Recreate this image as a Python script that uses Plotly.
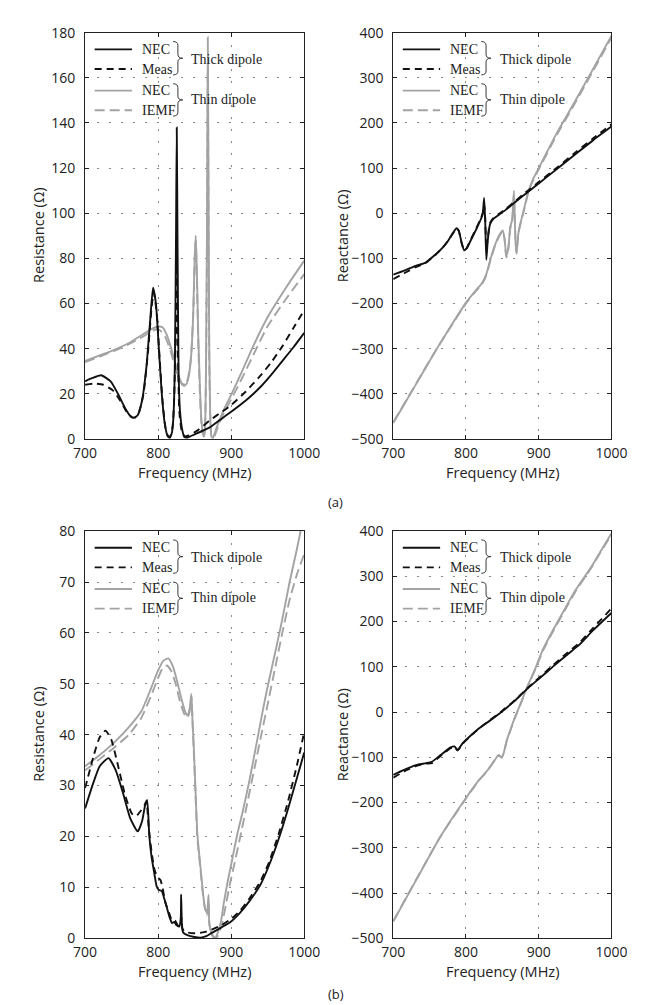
import plotly.graph_objects as go

W, H = 651, 1005

# ---------------- (a) resistance ----------------
a_res_thick_nec_f = [700, 710, 722, 735, 745, 755, 762, 767, 772, 778, 784, 789, 793, 797, 801, 805, 809, 813, 816,
                     819, 821, 823, 824.5, 825.5, 826.5, 828, 830, 833, 836, 840, 850, 870, 885, 900, 920, 940, 955,
                     970, 985, 1000]
a_res_thick_nec = [25.5, 27.0, 28.2, 25.5, 20, 13.5, 10.2, 9.4, 10.5, 17, 32, 52, 67, 60, 40, 20, 7, 1.2, 0.5,
                   3, 10, 35, 90, 138, 90, 30, 12, 4, 0.8, 0.6, 2, 5, 8.5, 12, 17, 23, 28.5, 34.5, 40.5, 47]

a_res_thick_meas_f = [700, 712, 725, 738, 748, 757, 764, 769, 774, 780, 786, 791, 794, 798, 802, 806, 810, 814, 817,
                      820, 822, 824, 825.5, 827, 829, 832, 836, 842, 855, 870, 885, 900, 920, 940, 955, 970, 985, 1000]
a_res_thick_meas = [24, 24.5, 24, 21.5, 17, 12, 9.5, 9.5, 12, 20, 38, 58, 65, 56, 36, 17, 5, 1, 1.5,
                    6, 18, 45, 80, 40, 12, 4, 1.2, 1.5, 4, 8, 11.5, 15, 21, 28, 34, 41, 49, 57]

a_res_thin_nec_f = [700, 720, 740, 760, 775, 790, 800, 806, 812, 818, 823, 828, 833, 838, 842, 845, 848, 850, 851.5,
                    853, 855, 857, 859, 861, 862.5, 864, 865.5, 867, 868, 869, 870, 871.5, 873, 875, 880, 890, 900,
                    915, 930, 950, 975, 1000]
a_res_thin_nec = [34.5, 37, 39.5, 42.5, 45.5, 48.5, 49.8, 49.5, 46, 40, 34, 28, 24.5, 24, 28, 36, 55, 80, 90,
                  75, 45, 25, 10, 3, 1, 3, 30, 100, 178, 110, 40, 8, 1, 0.5, 5, 13, 19.5,
                  30, 41, 54, 67, 79]

a_res_thin_iemf_f = [700, 720, 740, 760, 775, 790, 797, 803, 810, 817, 823, 828, 833, 837, 841, 845, 848, 850, 851.5,
                     853, 855, 857, 859, 861, 862.5, 864, 865.5, 867, 868, 869, 870, 871.5, 873, 876, 881, 890, 900,
                     915, 930, 950, 975, 1000]
a_res_thin_iemf = [34, 36.5, 39, 42, 44.5, 47.5, 48.5, 48, 45, 39, 32, 27, 24, 23.5, 27, 36, 55, 78, 88,
                   72, 42, 22, 8, 2.5, 1.5, 4, 28, 90, 165, 100, 35, 8, 1.5, 0.5, 4.5, 11.5, 17.5,
                   27, 37, 50, 62, 73]

# ---------------- (a) reactance ----------------
a_rea_thick_nec_f = [700, 715, 730, 744, 757, 767, 775, 782, 787, 790, 794, 797.5, 801, 806, 814, 820, 823, 825,
                     826.5, 828, 830, 833, 838, 845, 855, 867, 878, 890, 900, 925, 950, 975, 1000]
a_rea_thick_nec = [-136, -127, -117, -110, -93, -78, -62, -44, -33, -38, -65, -82, -78, -62, -36, -15, -2, 34,
                   -20, -103, -60, -25, -12, -4, 8, 24, 38, 53, 66, 98, 130, 162, 192]

a_rea_thick_meas_f = a_rea_thick_nec_f
a_rea_thick_meas = [-146, -133, -120, -111, -94, -78, -62, -45, -34, -39, -66, -82, -77, -60, -34, -13, 0, 20,
                    -10, -80, -55, -22, -10, -2, 10, 26, 41, 56, 69, 101, 134, 166, 197]

a_rea_thin_nec_f = [700, 720, 740, 760, 780, 800, 815, 822, 828, 834, 840, 846, 850.5, 853, 855.5, 858, 861, 863.5,
                    866, 868, 869.5, 872, 876, 880, 886, 893, 900, 925, 950, 975, 1000]
a_rea_thin_nec = [-465, -410, -355, -300, -248, -198, -168, -155, -135, -100, -70, -48, -38, -55, -95, -80, -30, -15,
                  50, -60, -90, -45, -15, 10, 50, 78, 100, 178, 248, 320, 393]

a_rea_thin_iemf_f = a_rea_thin_nec_f
a_rea_thin_iemf = [-463, -409, -354, -300, -249, -200, -170, -157, -137, -102, -72, -50, -40, -58, -98, -82, -33, -18,
                   40, -55, -88, -45, -16, 8, 48, 76, 97, 174, 244, 316, 389]

# ---------------- (b) resistance ----------------
b_res_thick_nec_f = [700, 710, 720, 732, 742, 752, 762, 772, 778, 782, 785, 788, 791, 794.5, 798, 801, 805, 808,
                     812, 816, 819, 822, 825, 829, 831, 831.5, 832.5, 834, 840, 848, 858, 866, 873, 885, 899, 912,
                     925, 940, 952, 965, 978, 990, 1000]
b_res_thick_nec = [25.5, 30, 33.8, 35.4, 33, 28.5, 23.5, 21, 23, 26, 27.2, 20, 16, 13, 10.2, 9.5, 9.3, 8,
                   6, 4, 3, 3.2, 2.6, 2.3, 4, 8.6, 3, 1.2, 0.6, 0.3, 0.1, 0.4, 1, 2, 3.2, 5,
                   7.3, 10.5, 14.4, 19.5, 25.5, 31.5, 36.5]

b_res_thick_meas_f = [700, 712, 720, 728, 736, 745, 755, 764, 770, 776, 781, 784, 787, 791, 795, 799, 803, 806,
                      810, 815, 819, 823, 827, 830, 832, 833, 836, 845, 855, 866, 875, 887, 900, 912, 925, 940,
                      952, 965, 978, 990, 1000]
b_res_thick_meas = [29.5, 36, 39.5, 40.8, 39, 34, 28, 24.5, 24, 25, 26, 27, 22, 17, 13.5, 12, 11.5, 10,
                    7, 5, 3.5, 3.5, 2.5, 2.2, 4, 2, 1.3, 1, 1, 1.3, 1.8, 2.6, 3.8, 5.4, 7.8, 11.2,
                    15, 20.5, 27, 34, 40.5]

b_res_thin_nec_f = [700, 720, 740, 760, 777, 790, 799, 807, 814, 820, 826, 832, 837, 840, 843, 845.5, 847, 849,
                    851.5, 853.5, 855.5, 858, 861, 864, 867, 869, 870, 872, 875, 878, 881, 886, 890, 895, 900,
                    908, 916, 925, 935, 945, 951.5, 960, 969, 980, 990, 1000]
b_res_thin_nec = [33.8, 36, 38.5, 41.5, 44.6, 49, 52.3, 54.5, 55, 53.5, 50.5, 47, 44.5, 43.8, 45, 48, 43, 37,
                  28, 21, 17.5, 14, 9.5, 6, 5, 8.5, 3, 1.5, 0.5, 0, 0.8, 3.3, 7, 11, 14.5,
                  20.2, 25, 31, 38.5, 46, 50.5, 56, 62, 70, 76.5, 83.5]

b_res_thin_iemf_f = [700, 720, 740, 760, 777, 790, 799, 806, 812, 818, 824, 830, 836, 840, 843, 845.5, 847, 849,
                     851.5, 853.5, 855.5, 858, 861, 864, 867, 869, 870, 872, 875, 878, 882, 887, 892, 898, 905,
                     914, 922, 932, 942, 950, 960, 970, 980, 990, 1000]
b_res_thin_iemf = [33, 35.2, 37.5, 40, 43.3, 47.5, 50.8, 53, 53.6, 52.5, 50, 46.5, 44, 43.3, 44.5, 47.5, 43, 36,
                   27, 20, 17, 13.5, 9, 6, 4.5, 7, 3, 1.2, 0.3, 0, 0.5, 2.5, 6, 10.5, 15,
                   21, 26.5, 33.5, 40.5, 46, 53, 60, 66.5, 71.5, 75.5]

# ---------------- (b) reactance ----------------
b_rea_thick_nec_f = [700, 715, 730, 745, 753, 765, 779, 784, 788.6, 795, 801, 815, 832, 850, 865, 875, 886, 900,
                     920, 940, 956, 975, 1000]
b_rea_thick_nec = [-139, -128, -118, -113, -110, -95, -78, -76, -84, -70, -60, -40, -20, 2, 22, 37, 54, 73,
                   101, 128, 149, 181, 219]

b_rea_thick_meas_f = b_rea_thick_nec_f
b_rea_thick_meas = [-145, -131, -120, -114, -113, -97, -80, -77, -85, -71, -61, -40, -19, 3, 23, 38, 55, 75,
                    104, 132, 153, 186, 229]

b_rea_thin_nec_f = [700, 733, 765, 800, 818, 830, 840, 845, 849, 852, 856, 861, 867, 875, 884, 895, 906, 920,
                    932.5, 950, 972, 985, 1000]
b_rea_thin_nec = [-463, -367, -275, -190, -150, -128, -105, -95, -100, -90, -63, -40, -13, 18, 55, 95, 139, 182,
                  218, 268, 320, 355, 395]

b_rea_thin_iemf_f = b_rea_thin_nec_f
b_rea_thin_iemf = [-462, -366, -275, -191, -151, -129, -106, -96, -101, -91, -64, -41, -14, 17, 54, 93, 136, 179,
                   215, 265, 318, 353, 392]

x_ticks = [700, 800, 900, 1000]
res_a_ticks = list(range(0, 181, 20))
res_b_ticks = list(range(0, 81, 10))
rea_ticks = list(range(-500, 401, 100))

BLACK = "#111111"
GRAY = "#a3a3a3"
DASH_K = "7px,5px"
DASH_G = "10px,5px"
LW = 1.9

# plot boxes in pixels (left, right, top, bottom)
L_X = (68, 297)
R_X = (390, 618)
T_Y = (15, 429)
B_Y = (523, 938)


def xdom(p):
    return [p[0] / W, p[1] / W]


def ydom(p):
    return [1 - p[1] / H, 1 - p[0] / H]


fig = go.Figure()

panels = [
    ("x", "y", [
        (a_res_thick_nec_f, a_res_thick_nec, BLACK, "solid"),
        (a_res_thick_meas_f, a_res_thick_meas, BLACK, DASH_K),
        (a_res_thin_nec_f, a_res_thin_nec, GRAY, "solid"),
        (a_res_thin_iemf_f, a_res_thin_iemf, GRAY, DASH_G),
    ]),
    ("x2", "y2", [
        (a_rea_thick_nec_f, a_rea_thick_nec, BLACK, "solid"),
        (a_rea_thick_meas_f, a_rea_thick_meas, BLACK, DASH_K),
        (a_rea_thin_nec_f, a_rea_thin_nec, GRAY, "solid"),
        (a_rea_thin_iemf_f, a_rea_thin_iemf, GRAY, DASH_G),
    ]),
    ("x3", "y3", [
        (b_res_thick_nec_f, b_res_thick_nec, BLACK, "solid"),
        (b_res_thick_meas_f, b_res_thick_meas, BLACK, DASH_K),
        (b_res_thin_nec_f, b_res_thin_nec, GRAY, "solid"),
        (b_res_thin_iemf_f, b_res_thin_iemf, GRAY, DASH_G),
    ]),
    ("x4", "y4", [
        (b_rea_thick_nec_f, b_rea_thick_nec, BLACK, "solid"),
        (b_rea_thick_meas_f, b_rea_thick_meas, BLACK, DASH_K),
        (b_rea_thin_nec_f, b_rea_thin_nec, GRAY, "solid"),
        (b_rea_thin_iemf_f, b_rea_thin_iemf, GRAY, DASH_G),
    ]),
]

# draw gray first so black sits on top
for xa, ya, series in panels:
    for f, v, col, dash in series[2:] + series[:2]:
        fig.add_trace(go.Scatter(
            x=f, y=v, xaxis=xa, yaxis=ya, mode="lines", showlegend=False,
            line=dict(color=col, width=LW, dash=dash, shape="spline", smoothing=0.5),
            hoverinfo="skip"))

tick_font = dict(family="Open Sans", size=14, color="#222")
axis_style = dict(
    showline=True, linecolor="#222", linewidth=1, mirror="ticks",
    ticks="inside", ticklen=4, tickcolor="#222",
    showgrid=True, gridcolor="#8a8a8a", griddash="2px,10px", gridwidth=1,
    zeroline=False, tickfont=tick_font,
)
yaxis_style = dict(axis_style, ticklabelstandoff=6)
xaxis_style = dict(axis_style, ticklabelstandoff=1)

fig.update_layout(
    width=W, height=H, margin=dict(l=0, r=0, t=0, b=0),
    paper_bgcolor="white", plot_bgcolor="white",
    xaxis=dict(domain=xdom(L_X), anchor="y", range=[700, 1000], tickvals=x_ticks, **xaxis_style),
    yaxis=dict(domain=ydom(T_Y), anchor="x", range=[0, 180], tickvals=res_a_ticks, **yaxis_style),
    xaxis2=dict(domain=xdom(R_X), anchor="y2", range=[700, 1000], tickvals=x_ticks, **xaxis_style),
    yaxis2=dict(domain=ydom(T_Y), anchor="x2", range=[-500, 400], tickvals=rea_ticks, **yaxis_style),
    xaxis3=dict(domain=xdom(L_X), anchor="y3", range=[700, 1000], tickvals=x_ticks, **xaxis_style),
    yaxis3=dict(domain=ydom(B_Y), anchor="x3", range=[0, 80], tickvals=res_b_ticks, **yaxis_style),
    xaxis4=dict(domain=xdom(R_X), anchor="y4", range=[700, 1000], tickvals=x_ticks, **xaxis_style),
    yaxis4=dict(domain=ydom(B_Y), anchor="x4", range=[-500, 400], tickvals=rea_ticks, **yaxis_style),
)


def px(x, y):
    return x / W, 1 - y / H


annotations = []
shapes = []
sans = dict(family="Open Sans", size=14.5, color="#222")
serif = dict(family="Liberation Serif", size=14, color="#222")

# axis titles
for xb, yb, ytitle, xt in [(L_X, T_Y, "Resistance (Ω)", 20), (R_X, T_Y, "Reactance (Ω)", 337),
                           (L_X, B_Y, "Resistance (Ω)", 20), (R_X, B_Y, "Reactance (Ω)", 337)]:
    cx, cy = px((xb[0] + xb[1]) / 2, yb[1] + 34)
    annotations.append(dict(x=cx, y=cy, xref="paper", yref="paper", text="Frequency (MHz)",
                            showarrow=False, font=sans, xanchor="center", yanchor="middle"))
    cx, cy = px(xt, (yb[0] + yb[1]) / 2)
    annotations.append(dict(x=cx, y=cy, xref="paper", yref="paper", text=ytitle, textangle=-90,
                            showarrow=False, font=sans, xanchor="center", yanchor="middle"))

for lbl, yy in [("(a)", 493), ("(b)", 995)]:
    cx, cy = px(330, yy)
    annotations.append(dict(x=cx, y=cy, xref="paper", yref="paper", text=lbl, showarrow=False,
                            font=dict(family="Open Sans", size=13, color="#222"),
                            xanchor="center", yanchor="middle"))


def brace(x, ytop, ybot, w=10):
    ym = (ytop + ybot) / 2
    h = w * 0.5
    pts = [("M", x, ytop), ("Q", x + h, ytop), ("", x + h, ytop + 4), ("L", x + h, ym - 4),
           ("Q", x + h, ym), ("", x + w, ym), ("Q", x + h, ym), ("", x + h, ym + 4),
           ("L", x + h, ybot - 4), ("Q", x + h, ybot), ("", x, ybot)]
    s = ""
    for cmd, a, b in pts:
        X, Y = px(a, b)
        s += f"{cmd}{X:.5f},{Y:.5f} "
    return s.strip()


legend_rows = [("NEC", BLACK, "solid"), ("Meas", BLACK, DASH_K), ("NEC", GRAY, "solid"), ("IEMF", GRAY, DASH_G)]
row_dy = [17, 37, 59, 79]
for xb in (L_X, R_X):
    for yb in (T_Y, B_Y):
        left, top = xb[0], yb[0]
        for (name, col, dash), dy in zip(legend_rows, row_dy):
            x0, y0 = px(left + 10, top + dy)
            x1, _ = px(left + 49, top + dy)
            shapes.append(dict(type="line", xref="paper", yref="paper", x0=x0, x1=x1, y0=y0, y1=y0,
                               line=dict(color=col, width=LW, dash=dash)))
            tx, ty = px(left + 57, top + dy)
            annotations.append(dict(x=tx, y=ty, xref="paper", yref="paper", text=name, showarrow=False,
                                    font=serif, xanchor="left", yanchor="middle"))
        for (t0, t1, lab, ly) in [(9, 43, "Thick dipole", 27), (52, 85, "Thin dipole", 68)]:
            shapes.append(dict(type="path", xref="paper", yref="paper", path=brace(left + 92, top + t0, top + t1),
                               line=dict(color="#222", width=0.9)))
            tx, ty = px(left + 109, top + ly)
            annotations.append(dict(x=tx, y=ty, xref="paper", yref="paper", text=lab, showarrow=False,
                                    font=serif, xanchor="left", yanchor="middle"))

fig.update_layout(annotations=annotations, shapes=shapes)

fig.write_html("out.html")
